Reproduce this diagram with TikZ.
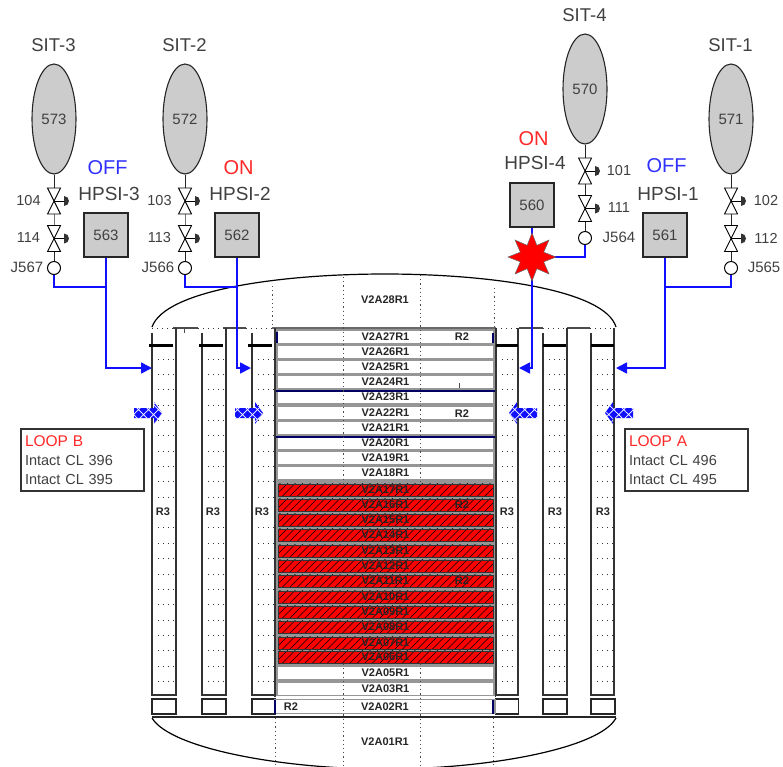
\documentclass[tikz,border=0pt]{standalone}
\usepackage{fontspec}
\setmainfont{Liberation Sans}
\usetikzlibrary{arrows.meta,shapes.geometric,patterns.meta}
\definecolor{boxgray}{RGB}{204,204,204}
\definecolor{txtgray}{RGB}{64,64,64}
\definecolor{rimgray}{RGB}{150,150,150}
\definecolor{offblue}{RGB}{48,48,255}
\definecolor{onred}{RGB}{255,40,40}
\definecolor{pipeblue}{RGB}{16,16,255}
\definecolor{navyline}{RGB}{0,0,100}
\tikzset{
  lbl/.style={font=\fontsize{#1}{#1}\selectfont, text=txtgray, inner sep=0pt},
  rowlbl/.style={font=\fontsize{11}{11}\selectfont\bfseries, text=black!85, inner sep=0pt},
  tank/.style={ellipse, draw=black!85, fill=boxgray, line width=1.1pt, minimum width=44pt, minimum height=110pt, inner sep=0pt, font=\fontsize{15}{15}\selectfont, text=txtgray},
  pump/.style={rectangle, draw=black!85, fill=boxgray, line width=1.1pt, minimum size=44pt, inner sep=0pt, font=\fontsize{15}{15}\selectfont, text=txtgray},
  junc/.style={circle, draw=black, fill=white, line width=1pt, minimum size=13pt, inner sep=0pt},
  pipe/.style={black!85, line width=1pt},
  inject/.style={pipeblue, line width=1.7pt},
  wall/.style={black!80, line width=1.2pt},
  dotv/.style={black!70, line width=0.7pt, dash pattern=on 1.2pt off 3pt},
  doth/.style={black!80, line width=0.8pt, dash pattern=on 1pt off 4pt},
  rowbox/.style={rectangle, fill=white, minimum width=215pt, minimum height=12.6pt, inner sep=0pt, font=\fontsize{11}{11}\selectfont\bfseries, text=black!85},
  hotrow/.style={rowbox, draw=black!80, line width=0.4pt, minimum height=12.6pt, fill=red, path picture={
    \foreach \hx in {-112,-104.5,...,112}
      \draw[black, line width=0.6pt] ([shift={(\hx-7,7)}]path picture bounding box.center) -- ([shift={(\hx+7,-7)}]path picture bounding box.center);
  }},
  xarrow/.style={preaction={fill=pipeblue}, pattern={Hatch[angle=45,distance=7pt,line width=0.7pt]}, pattern color=white},
  loopbox/.style={rectangle, draw=black!80, fill=white, line width=1.2pt, minimum width=123pt, minimum height=62pt, inner sep=0pt, align=left, text width=115pt, font=\fontsize{14.5}{19}\selectfont, text=txtgray},
  lowbox/.style={rectangle, draw=black!85, line width=1.1pt, minimum width=24pt, minimum height=15pt, inner sep=0pt}
}
\newcommand{\valvemark}[2]{%
  \filldraw[fill=white, draw=black, line width=0.9pt] (#1-6.5,#2-13) -- (#1+6.5,#2-13) -- (#1-6.5,#2+13) -- (#1+6.5,#2+13) -- cycle;
  \draw[black, line width=0.9pt] (#1,#2) -- (#1+10,#2);
  \fill[black!80] (#1+10,#2-5) arc[start angle=-90, end angle=90, radius=5] -- cycle;
}
\begin{document}
\begin{tikzpicture}[x=1pt,y=-1pt]
\useasboundingbox (0,0) rectangle (783,766);
% vessel
\draw[black, line width=1.2pt] (152,327) .. controls (165,290) and (280,274) .. (385,274) .. controls (490,274) and (605,290) .. (616,327);
\draw[black, line width=1.2pt] (152,718) .. controls (170,748) and (280,769) .. (385,769) .. controls (490,769) and (600,748) .. (616,718);
\draw[black!85, line width=1.4pt] (152,717) -- (616,717);
\fill[rimgray] (275,328) rectangle (495,696);
\foreach \xa/\xb in {152/173,198/223,246/272,496/518,543/566,590/614}
  \draw[doth] (\xa,328) -- (\xb,328);
\foreach \xa/\xb in {173/198,223/246,519/543,567/590}
  \draw[black!70, line width=1.3pt] (\xa,328) -- (\xb,328);
\draw[rimgray!70!black, line width=2.4pt] (272,328) -- (496,328);
\draw[black!70, line width=0.8pt] (184,328) -- (184,333);
% downcomer columns
\foreach \xl/\xr/\bl/\br/\tl in {152/176/149/173/333,202/226/199/223/333,252/275/248/272/333,496/518/496/518/328,543/567/543/566/333,591/614/591/614/333} {
  \draw[wall] (\xl,\tl) -- (\xl,695) -- (\xr,695) -- (\xr,328);
  \draw[black, line width=3pt] (\bl,345) -- (\br,345);
  \foreach \k in {0,...,9,11,12,...,21}
    \draw[doth] (\xl+6,359+15.35*\k) -- (\xl+22,359+15.35*\k);
}
\foreach \xl/\nm/\bw in {164/a/24,214/b/24,263.5/c/23,507/d/23,555/e/24,603/f/24}
  \node[lowbox, minimum width=\bw pt] (low\nm) at (\xl,706.5) {};
\foreach \xx/\nm in {163/a,213/b,262/c,507/d,555/e,603/f}
  \node[rowlbl] (rthree\nm) at (\xx,512) {R3};
% core rows
\foreach \yy/\rw in {337/27,352/26,367/25,382/24,397/23,413/22,428/21,443/20,458/19,473/18,673/05,689/03}
  \node[rowbox] (row\rw) at (385.5,\yy) {V2A\rw R1};
\foreach \yy/\rw in {490/17,505/16,520/15,535/14,551/13,566/12,581/11,597/10,612/09,627/08,643/07,657/06}
  \node[hotrow] (row\rw) at (385.5,\yy) {V2A\rw R1};
\node[rowbox, draw=rimgray, line width=1.2pt, minimum width=220pt, minimum height=14.5pt] (row02) at (385,706.5) {V2A02R1};
\foreach \yy in {391,437}
  \draw[navyline, line width=1.3pt] (275,\yy) -- (495,\yy);
\draw[navyline, line width=1.8pt] (277,332) -- (277,343);
\draw[navyline, line width=1.8pt] (493,333) -- (493,343);
\draw[navyline, line width=1.3pt] (275,700) -- (275,714);
\draw[navyline, line width=1.3pt] (493,700) -- (493,714);
\draw[wall] (275,328) -- (275,697);
\draw[wall] (495.5,328) -- (495.5,697);
\draw[black!70, line width=0.8pt] (459,383) -- (459,388);
% dotted grid
\draw[dotv] (272,286) -- (272,326);
\draw[dotv] (494,288) -- (494,326);
\draw[dotv] (343,277) -- (343,483);
\draw[dotv] (420,275) -- (420,483);
\draw[dotv] (343,664) -- (343,766);
\draw[dotv] (420,664) -- (420,766);
\draw[dotv] (275,718) -- (275,766);
\draw[dotv] (493,718) -- (493,766);
\node[rowlbl] (top) at (385,300) {V2A28R1};
\node[rowlbl] (bot) at (385,742) {V2A01R1};
\foreach \xx/\yy/\nm in {462/337/a,462/414/b,462/505/c,462/581/d,291/707/e}
  \node[rowlbl] (rtwo\nm) at (\xx,\yy) {R2};
% tanks and valves
\foreach \xx/\dy/\sit/\tk/\va/\vb/\jn/\vo/\jo in {54/0/3/573/104/114/J567/-25.5/-27,185/0/2/572/103/113/J566/-25.5/-27,585/-30/4/570/101/111/J564/34/34,731/0/1/571/102/112/J565/35/33} {
  \node[tank] (tank\tk) at (\xx,119+\dy) {\tk};
  \node[lbl=18.5] (sit\sit) at (\xx-0.5,45+\dy) {SIT-\sit};
  \coordinate (v\va) at (\xx,201+\dy);
  \coordinate (v\vb) at (\xx,238.5+\dy);
  \node[junc] (j\jn) at (\xx,268+\dy) {};
  \draw[pipe] (tank\tk) -- (v\va) -- (v\vb) -- (j\jn);
  \valvemark{\xx}{201+\dy}
  \valvemark{\xx}{238.5+\dy}
  \node[lbl=14.5] (lab\va) at (\xx+\vo,200.5+\dy) {\va};
  \node[lbl=14.5] (lab\vb) at (\xx+\vo,238+\dy) {\vb};
  \node[lbl=15] (lab\jn) at (\xx+\jo,267.5+\dy) {\jn};
}
% safety injection
\foreach \xx/\yy/\pu/\hp/\stt/\cc/\hy/\sy/\wx in {106/235/563/3/OFF/offblue/194/168/152,237/235/562/2/ON/onred/194/168/251,532/205/560/4/ON/onred/163/139/519,665/235/561/1/OFF/offblue/194/166/616} {
  \node[pump] (pump\pu) at (\xx,\yy) {\pu};
  \node[lbl=19] (hp\hp) at (\xx+3,\hy) {HPSI-\hp};
  \node[lbl=20, text=\cc] (st\hp) at (\xx+1.5,\sy) {\stt};
  \coordinate (in\pu) at (\wx,368);
  \draw[inject, -{Stealth[length=11pt, width=11pt, inset=0pt]}] (pump\pu) |- (in\pu);
}
\coordinate (tee3) at (106,287);
\coordinate (tee2) at (237,287);
\coordinate (tee4) at (532,257);
\coordinate (tee1) at (665,287);
\draw[inject] (jJ567) |- (tee3);
\draw[inject] (jJ566) |- (tee2);
\draw[inject] (jJ564) |- (tee4);
\draw[inject] (jJ565) |- (tee1);
\node[star, star points=8, star point ratio=1.9, minimum size=48pt, inner sep=0pt, fill=red, draw=black!60, line width=0.5pt] (burst) at (tee4) {};
% crossflow arrows
\foreach \xs/\dr in {134/1,235/1,537/-1,633/-1}
  \path[xarrow] (\xs,408) -- ++(20*\dr,0) -- ++(0,-6) -- ++(8*\dr,11) -- ++(-8*\dr,11) -- ++(0,-6) -- ++(-20*\dr,0) -- cycle;
\node[loopbox] (loopb) at (82.5,460) {\textcolor{onred}{\fontsize{15.5}{19}\selectfont LOOP B}\\Intact CL 396\\Intact CL 395};
\node[loopbox] (loopa) at (686.5,460) {\textcolor{onred}{\fontsize{15.5}{19}\selectfont LOOP A}\\Intact CL 496\\Intact CL 495};
\end{tikzpicture}
\end{document}
